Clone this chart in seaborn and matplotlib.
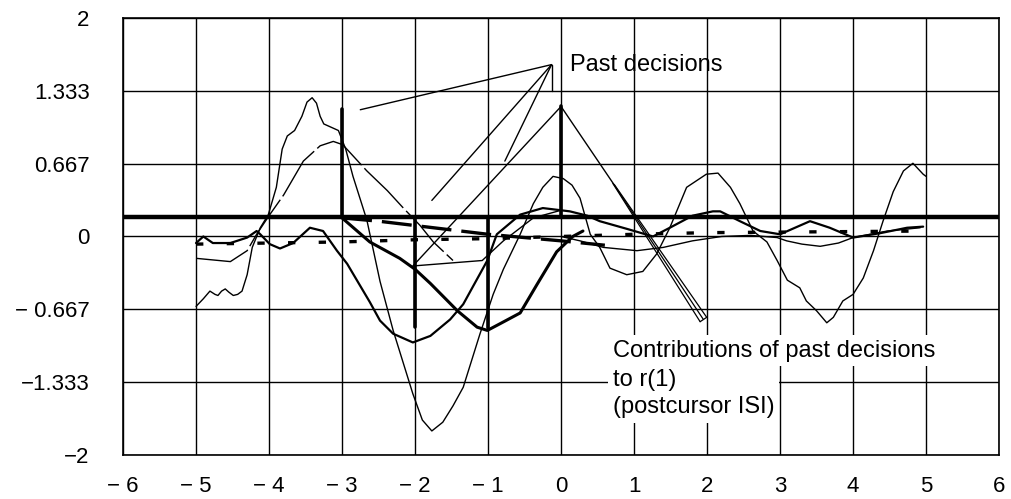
import matplotlib
matplotlib.use("Agg")
import matplotlib.pyplot as plt
import seaborn as sns

# ---------------- data ----------------
x_ticks = [-6, -5, -4, -3, -2, -1, 0, 1, 2, 3, 4, 5, 6]
x_tick_labels = ["\u2212 6", "\u2212 5", "\u2212 4", "\u2212 3", "\u2212 2", "\u2212 1",
                 "0", "1", "2", "3", "4", "5", "6"]
y_ticks = [2, 1.333, 0.667, 0, -0.667, -1.333, -2]
y_tick_labels = ["2", "1.333", "0.667", "0", "\u2212 0.667", "\u22121.333", "\u22122"]

# thin oscillating received signal
A_pts = [(-5, -0.64), (-4.9, -0.57), (-4.81, -0.5), (-4.74, -0.53), (-4.7, -0.54), (-4.65, -0.5),
         (-4.6, -0.48), (-4.55, -0.51), (-4.49, -0.54), (-4.43, -0.53), (-4.37, -0.5), (-4.3, -0.35),
         (-4.23, -0.1), (-4.12, 0.08), (-4.01, 0.2), (-3.9, 0.45), (-3.82, 0.8), (-3.75, 0.92),
         (-3.65, 0.97), (-3.55, 1.1), (-3.48, 1.23), (-3.41, 1.27), (-3.35, 1.22), (-3.3, 1.1),
         (-3.25, 1.03), (-3.15, 1.0), (-3.05, 0.97), (-2.95, 0.8), (-2.85, 0.55), (-2.66, 0.15),
         (-2.48, -0.41), (-2.3, -0.86), (-2.03, -1.44), (-1.9, -1.68), (-1.77, -1.78), (-1.62, -1.7),
         (-1.48, -1.55), (-1.34, -1.38), (-1.11, -0.89), (-0.93, -0.53), (-0.79, -0.3), (-0.56, 0.02),
         (-0.38, 0.3), (-0.25, 0.45), (-0.11, 0.55), (0.03, 0.53), (0.15, 0.47), (0.26, 0.35),
         (0.4, 0.02), (0.53, -0.1), (0.67, -0.29), (0.9, -0.35), (1.12, -0.32), (1.31, -0.16),
         (1.49, 0.08), (1.72, 0.45), (1.99, 0.57), (2.15, 0.58), (2.32, 0.45), (2.45, 0.3),
         (2.63, 0.05), (2.82, -0.05), (2.96, -0.22), (3.1, -0.4), (3.27, -0.47), (3.36, -0.59),
         (3.5, -0.68), (3.64, -0.79), (3.73, -0.74), (3.86, -0.59), (4.0, -0.53), (4.14, -0.38),
         (4.28, -0.13), (4.41, 0.14), (4.55, 0.41), (4.69, 0.6), (4.82, 0.67), (4.96, 0.57), (5.0, 0.55)]

# thin pulse for the decision at -3
B_pts = [(-5, -0.2), (-4.53, -0.23), (-4.3, -0.13), (-4.17, 0.02), (-3.99, 0.2), (-3.8, 0.38),
         (-3.53, 0.69), (-3.3, 0.83), (-3.12, 0.87), (-2.99, 0.84), (-2.66, 0.6), (-2.38, 0.42),
         (-2.16, 0.26), (-1.93, 0.1), (-1.75, -0.05), (-1.48, -0.22)]

# medium pulse for the decision at -2
W_pts = [(-5, -0.06), (-4.9, 0.0), (-4.77, -0.06), (-4.53, -0.06), (-4.3, -0.01), (-4.17, 0.05),
         (-4.12, 0.02), (-3.99, -0.07), (-3.85, -0.11), (-3.67, -0.06), (-3.44, 0.08), (-3.26, 0.05),
         (-3.07, -0.13), (-2.93, -0.25), (-2.62, -0.6), (-2.48, -0.77), (-2.3, -0.89), (-2.03, -0.97),
         (-1.79, -0.91), (-1.52, -0.76), (-1.34, -0.62), (-1.2, -0.45), (-1.01, -0.22), (-0.88, 0.02),
         (-0.56, 0.2), (-0.25, 0.26), (0.12, 0.23), (0.36, 0.19), (0.53, 0.14), (0.9, 0.07),
         (1.26, 0.0), (1.49, 0.08), (1.8, 0.19), (2.08, 0.23), (2.18, 0.23), (2.45, 0.14),
         (2.73, 0.05), (3.0, 0.02), (3.41, 0.14), (3.68, 0.08), (4.0, -0.01), (4.37, 0.03),
         (4.74, 0.08), (4.96, 0.09)]

# bold pulse for the decision at -1
P_pts = [(-3, 0.17), (-2.62, -0.05), (-2.21, -0.2), (-2.0, -0.3), (-1.79, -0.43), (-1.42, -0.68),
         (-1.15, -0.83), (-1.01, -0.86), (-0.84, -0.8), (-0.56, -0.7), (-0.33, -0.44), (-0.06, -0.14),
         (0.16, 0.0), (0.3, 0.05)]

# bold dashed (short dashes) tail
D1_pts = [(-5, -0.07), (-4, -0.06), (-3, -0.05), (-2, -0.03), (-1, -0.02), (0, 0.0),
          (1, 0.02), (2, 0.035), (3, 0.04), (4, 0.045), (5, 0.05)]

# bold dashed (long dashes) line
D2_pts = [(-3, 0.17), (-2.5, 0.14), (-2, 0.1), (-1.5, 0.06), (-1, 0.02), (-0.5, -0.01),
          (0, -0.04), (0.6, -0.08)]

# thin right-hand tail
T_pts = [(0, 0.0), (0.26, -0.04), (0.58, -0.1), (1.04, -0.13), (1.4, -0.1), (1.8, -0.04),
         (2.2, 0.0), (2.6, 0.01), (2.96, -0.01), (3.09, -0.04), (3.3, -0.07), (3.55, -0.09),
         (3.8, -0.06), (4.0, -0.01), (4.47, 0.05), (4.92, 0.08)]

# thin piecewise "hat" from the decision at 0
H_pts = [(0.72, 0.48), (0, 1.19), (-2.03, -0.27), (-1.08, -0.22), (-0.79, -0.04),
         (-0.38, 0.17), (0, 0.24)]

baseline_level = 0.18
baseline_x = [-6, 6]

spike_x = [-3, -2, -1, 0]
spike_top = [1.17, -0.83, -0.84, 1.19]

past_apex = (-0.13, 1.573)
past_ends = [(-2.75, 1.16), (-1.77, 0.33), (-0.77, 0.69), (-0.13, 1.333)]

contrib_start = (0.72, 0.48)
contrib_ends = [(1.905, -0.78), (1.95, -0.76), (1.995, -0.74)]

label_past = "Past decisions"
label_contrib_1 = "Contributions of past decisions"
label_contrib_2 = "to r(1)\n(postcursor ISI)"

# ---------------- drawing ----------------
sns.set_style("white")
plt.rcParams["font.family"] = ["Liberation Sans", "DejaVu Sans"]

fig = plt.figure(figsize=(10.11, 4.99), dpi=100)
ax = fig.add_axes([0.1217, 0.0882, 0.8665, 0.8758])


def draw(pts, lw, ls="-", z=3):
    xs = [p[0] for p in pts]
    ys = [p[1] for p in pts]
    sns.lineplot(x=xs, y=ys, sort=False, estimator=None, color="black",
                 linewidth=lw, linestyle=ls, ax=ax, zorder=z)


draw(A_pts, 1.0)
draw(B_pts, 1.0, ls=(0, (40, 3)))
draw(T_pts, 1.0)
draw(H_pts, 1.0)
draw(W_pts, 1.6)
draw(P_pts, 2.2)
draw(D1_pts, 2.4, ls=(0, (2.2, 7)))
draw(D2_pts, 2.4, ls=(0, (9, 3)))

# baseline
draw([(baseline_x[0], baseline_level), (baseline_x[1], baseline_level)], 3.2, z=4)

# past decision spikes
for sx, st in zip(spike_x, spike_top):
    draw([(sx, baseline_level), (sx, st)], 2.6, z=4)

# leaders for "Past decisions"
for e in past_ends:
    draw([past_apex, e], 1.0)

# leaders for "Contributions..."
starts = [(contrib_start[0] - 0.01, contrib_start[1] + 0.005), contrib_start,
          (contrib_start[0] + 0.01, contrib_start[1] - 0.005)]
for s, e in zip(starts, contrib_ends):
    draw([s, e], 0.9)
draw([contrib_ends[0], contrib_ends[-1]], 0.9)

ax.set_xlim(-6, 6)
ax.set_ylim(-2, 2)
ax.set_xticks(x_ticks)
ax.set_xticklabels(x_tick_labels)
ax.set_yticks(y_ticks)
ax.set_yticklabels(y_tick_labels)
ax.grid(True, color="black", linewidth=1.0)
ax.set_axisbelow(True)
for sp in ax.spines.values():
    sp.set_color("black")
    sp.set_linewidth(1.2)
ax.tick_params(axis="y", direction="out", length=3, width=1.0, color="black",
               pad=21, labelsize=16, labelcolor="black")
ax.tick_params(axis="x", length=0, pad=15, labelsize=16, labelcolor="black")
ax.set_xlabel("")
ax.set_ylabel("")
if ax.get_legend():
    ax.get_legend().remove()

ax.text(0.12, 1.511, label_past, fontsize=17, color="black", va="baseline", ha="left", zorder=6)
ax.text(0.712, -1.10, label_contrib_1, fontsize=17, color="black", va="baseline", ha="left",
        zorder=6, bbox=dict(boxstyle="square,pad=0.2", fc="white", ec="none"))
ax.text(0.712, -1.62, label_contrib_2, fontsize=17, color="black", va="baseline", ha="left",
        zorder=6, linespacing=1.3,
        bbox=dict(boxstyle="square,pad=0.2", fc="white", ec="none"))

fig.savefig("out.png", dpi=100)
